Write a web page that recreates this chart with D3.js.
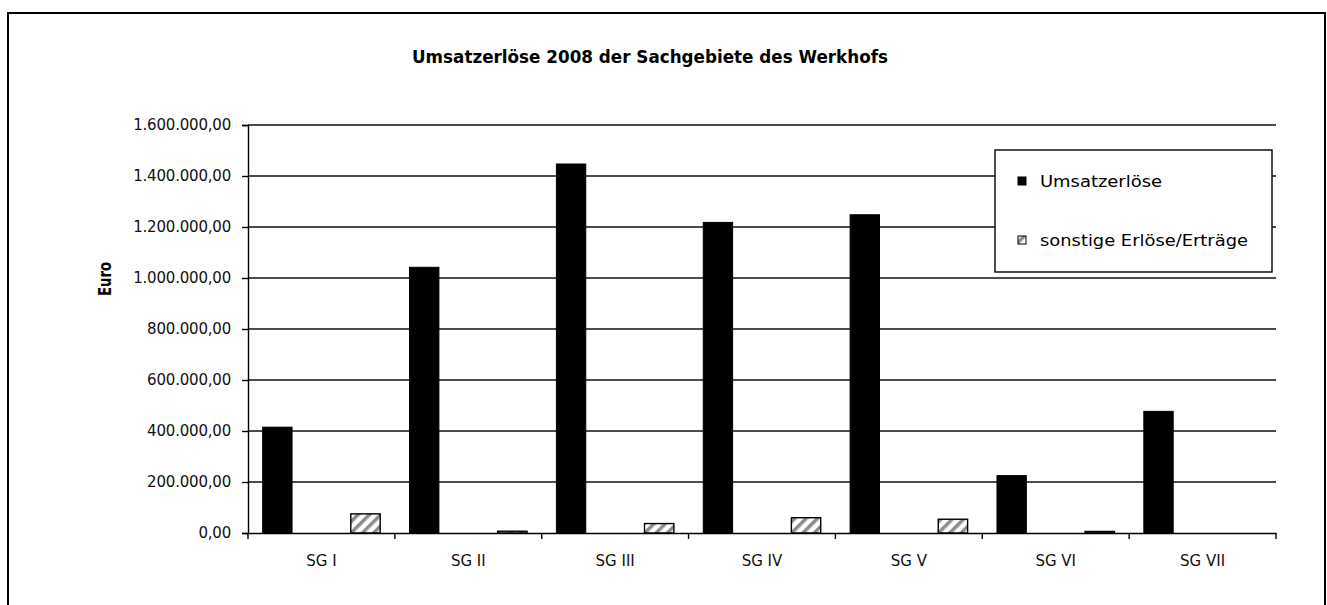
<!DOCTYPE html>
<html>
<head>
<meta charset="utf-8">
<script src="https://cdn.jsdelivr.net/npm/d3@7"></script>
<style>
  body { margin: 0; background: #fff; }
  text { font-family: "DejaVu Sans", Verdana, sans-serif; }
</style>
</head>
<body>
<div id="chart"></div>
<script>
var categories = ["SG I", "SG II", "SG III", "SG IV", "SG V", "SG VI", "SG VII"];
var seriesNames = ["Umsatzerlöse", "sonstige Erlöse/Erträge"];
var umsatz = [415000, 1042000, 1447000, 1218000, 1248000, 225000, 477000];
var sonstige = [75000, 7000, 37000, 60000, 54000, 6000, 0];
var yTicks = [0, 200000, 400000, 600000, 800000, 1000000, 1200000, 1400000, 1600000];

var app = {};
app.init = function(){
  var W = 1327, H = 605;
  var svg = d3.select("#chart").append("svg")
      .attr("width", W)
      .attr("height", H);

  // outer frame
  svg.append("rect")
      .attr("x", 8).attr("y", 13)
      .attr("width", 1317).attr("height", 620)
      .attr("fill", "#fff")
      .attr("stroke", "#000")
      .attr("stroke-width", 2);

  var defs = svg.append("defs");
  var pat = defs.append("pattern")
      .attr("id", "hatch")
      .attr("patternUnits", "userSpaceOnUse")
      .attr("width", 8).attr("height", 8)
      .attr("patternTransform", "rotate(45)");
  pat.append("rect").attr("width", 8).attr("height", 8).attr("fill", "#fff");
  pat.append("rect").attr("x", 0).attr("width", 3.5).attr("height", 8).attr("fill", "#8c8c8c");

  var left = 248, right = 1276, top = 125, bottom = 533;

  var x = d3.scaleBand().domain(categories).range([left, right]).padding(0);
  var xs = d3.scaleBand().domain(seriesNames).range([0, x.bandwidth()])
      .paddingInner(2/3).paddingOuter(1/6);
  var y = d3.scaleLinear().domain([0, 1600000]).range([bottom, top]);

  var fmt = function(v){
    var s = d3.format(",.2f")(v);
    return s.replace(/,/g, "#").replace(".", ",").replace(/#/g, ".");
  };

  // gridlines
  svg.append("g").selectAll("line")
      .data(yTicks.slice(1))
      .enter().append("line")
      .attr("x1", left).attr("x2", right)
      .attr("y1", function(d){ return y(d); })
      .attr("y2", function(d){ return y(d); })
      .attr("stroke", "#111")
      .attr("stroke-width", 1.4);

  // y axis
  var yAxis = svg.append("g")
      .attr("transform", "translate(" + left + ",0)")
      .call(d3.axisLeft(y).tickValues(yTicks).tickFormat(fmt).tickSize(6).tickPadding(11));
  yAxis.select(".domain").attr("stroke", "#000").attr("stroke-width", 1.4);
  yAxis.selectAll(".tick line").attr("stroke", "#000").attr("stroke-width", 1.4);
  yAxis.selectAll("text")
      .attr("font-family", "'DejaVu Sans', Verdana, sans-serif")
      .attr("font-size", "15px")
      .attr("letter-spacing", "-0.2px")
      .attr("fill", "#111");

  // bars
  var groups = svg.append("g").selectAll("g")
      .data(categories)
      .enter().append("g")
      .attr("transform", function(d){ return "translate(" + x(d) + ",0)"; });

  groups.append("rect")
      .attr("x", xs(seriesNames[0]))
      .attr("y", function(d, i){ return y(umsatz[i]); })
      .attr("width", xs.bandwidth())
      .attr("height", function(d, i){ return bottom - y(umsatz[i]); })
      .attr("fill", "#000")
      .attr("stroke", "#000");

  groups.filter(function(d, i){ return sonstige[i] > 0; })
      .append("rect")
      .attr("x", xs(seriesNames[1]))
      .attr("y", function(d){ return y(sonstige[categories.indexOf(d)]); })
      .attr("width", xs.bandwidth())
      .attr("height", function(d){ return bottom - y(sonstige[categories.indexOf(d)]); })
      .attr("fill", "url(#hatch)")
      .attr("stroke", "#000")
      .attr("stroke-width", 1.4);

  // x axis
  var xAxis = svg.append("g")
      .attr("transform", "translate(0," + bottom + ")")
      .call(d3.axisBottom(x).tickSize(0).tickPadding(22));
  xAxis.select(".domain").attr("stroke", "#000").attr("stroke-width", 1.4);
  xAxis.selectAll("text")
      .attr("font-family", "'DejaVu Sans', Verdana, sans-serif")
      .attr("font-size", "15px")
      .attr("fill", "#111");

  var bounds = x.domain().map(function(d){ return x(d); }).concat([right]);
  svg.append("g").selectAll("line")
      .data(bounds)
      .enter().append("line")
      .attr("x1", function(d){ return d; })
      .attr("x2", function(d){ return d; })
      .attr("y1", bottom).attr("y2", bottom + 6)
      .attr("stroke", "#000")
      .attr("stroke-width", 1.4);

  // title
  svg.append("text")
      .attr("x", 650).attr("y", 63)
      .attr("text-anchor", "middle")
      .attr("font-size", "17px")
      .attr("font-weight", "bold")
      .attr("textLength", 476)
      .attr("lengthAdjust", "spacingAndGlyphs")
      .text("Umsatzerlöse 2008 der Sachgebiete des Werkhofs");

  // y label
  svg.append("text")
      .attr("transform", "translate(111,279) rotate(-90)")
      .attr("text-anchor", "middle")
      .attr("font-size", "17px")
      .attr("font-weight", "bold")
      .attr("textLength", 34)
      .attr("lengthAdjust", "spacingAndGlyphs")
      .text("Euro");

  // legend
  var lg = svg.append("g").attr("transform", "translate(995,150)");
  lg.append("rect")
      .attr("width", 277).attr("height", 122)
      .attr("fill", "#fff")
      .attr("stroke", "#000")
      .attr("stroke-width", 1.4);
  var fills = ["#000", "url(#hatch)"];
  var lens = [122, 208];
  var item = lg.selectAll("g.item")
      .data(seriesNames)
      .enter().append("g")
      .attr("class", "item")
      .attr("transform", function(d, i){ return "translate(23," + (31 + i * 59) + ")"; });
  item.append("rect")
      .attr("x", 0).attr("y", -4)
      .attr("width", 8).attr("height", 8)
      .attr("fill", function(d, i){ return fills[i]; })
      .attr("stroke", "#000")
      .attr("stroke-width", 1);
  item.append("text")
      .attr("x", 22).attr("y", 6)
      .attr("font-size", "16px")
      .attr("textLength", function(d, i){ return lens[i]; })
      .attr("lengthAdjust", "spacingAndGlyphs")
      .text(function(d){ return d; });
};
app.init();
</script>
</body>
</html>
